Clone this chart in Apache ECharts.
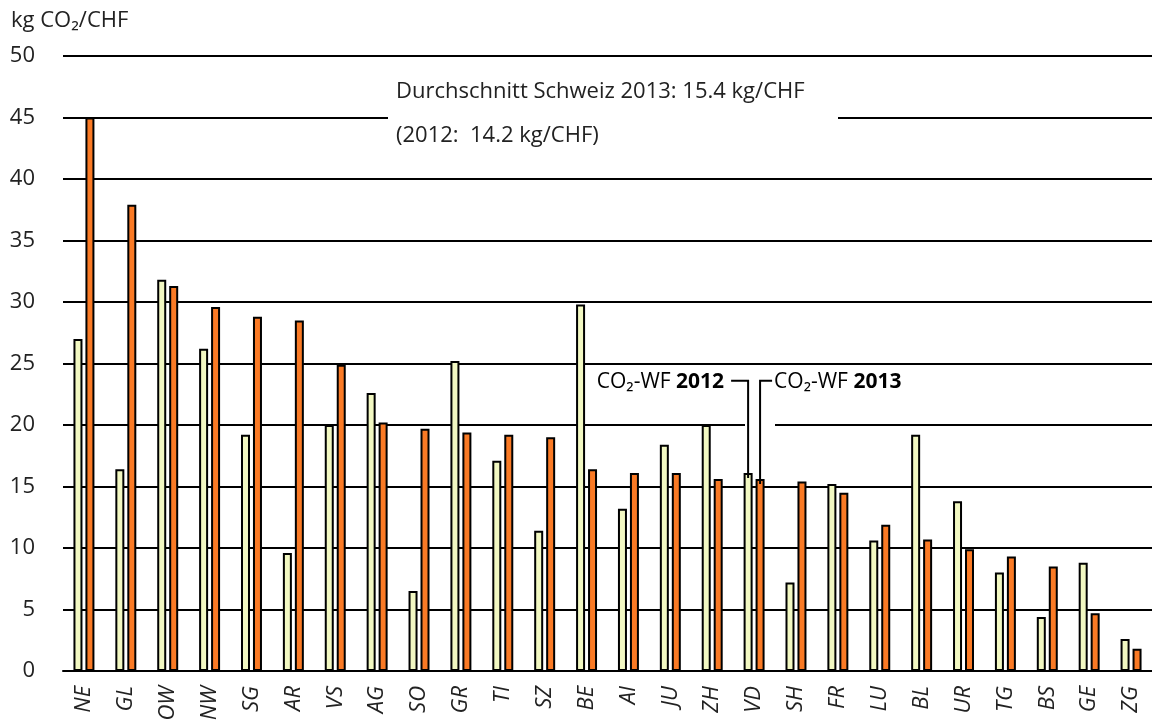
<!DOCTYPE html>
<html><head><meta charset="utf-8">
<script src="https://cdn.jsdelivr.net/npm/echarts@6/dist/echarts.min.js"></script>
<style>html,body{margin:0;padding:0;background:#fff}#c{width:1152px;height:727px}</style>
</head><body><div id="c"></div>
<script>
const categories = ['NE','GL','OW','NW','SG','AR','VS','AG','SO','GR','TI','SZ','BE','AI','JU','ZH','VD','SH','FR','LU','BL','UR','TG','BS','GE','ZG'];
const wf2012 = [27.0,16.4,31.8,26.2,19.2,9.6,20.0,22.6,6.5,25.2,17.1,11.4,29.8,13.2,18.4,20.0,16.1,7.2,15.2,10.6,19.2,13.8,8.0,4.4,8.8,2.6];
const wf2013 = [45.0,37.9,31.3,29.6,28.8,28.5,24.9,20.2,19.7,19.4,19.2,19.0,16.4,16.1,16.1,15.6,15.6,15.4,14.5,11.9,10.7,9.9,9.3,8.5,4.7,1.8];
const yTicks = [0,5,10,15,20,25,30,35,40,45,50];
const FONT = '"Open Sans", "Noto Sans", sans-serif';
const LIGHT = '#f2f8c2', ORANGE = '#fa7a25';

const chart = echarts.init(document.getElementById('c'), null, {renderer:'canvas'});
const BW = 9, GAPF = 0.33;
chart.setOption({
  animation:false,
  backgroundColor:'#fff',
  grid:{left:63, top:56, width:1095, bottom:56, containLabel:false},
  xAxis:{type:'category', data:categories,
    axisLine:{show:true, lineStyle:{color:'#000', width:2}},
    axisTick:{show:false},
    axisLabel:{rotate:90, fontStyle:'italic', fontFamily:FONT, fontSize:22, color:'#222', margin:15, interval:0}
  },
  yAxis:{type:'value', min:yTicks[0], max:yTicks[yTicks.length-1], interval:5,
    axisLine:{show:false}, axisTick:{show:false},
    axisLabel:{fontFamily:FONT, fontSize:22, color:'#222', margin:28},
    splitLine:{lineStyle:{color:'#000', width:2}}
  },
  series:[
    {type:'bar', name:'2012', data:wf2012, barWidth:BW, barGap:(GAPF*100)+'%',
      itemStyle:{color:LIGHT, borderColor:'#000', borderWidth:2}},
    {type:'bar', name:'2013', data:wf2013, barWidth:BW, barGap:(GAPF*100)+'%',
      itemStyle:{color:ORANGE, borderColor:'#000', borderWidth:2}}
  ]
});

function px(cat, v){ return chart.convertToPixel({gridIndex:0}, [cat, v]); }
const vdIdx = categories.indexOf('VD');
const vd = px('VD', 0);
const half = (BW*(1+GAPF))/2;
const x12 = vd[0]-half, x13 = vd[0]+half;
const top12 = px('VD', wf2012[vdIdx])[1], top13 = px('VD', wf2013[vdIdx])[1];
const yLab = px('VD', 23.6)[1];
const y45 = px('NE',45)[1], y20 = px('NE',20)[1];
const ts = {fontFamily:FONT, fontSize:22, fill:'#222'};
chart.setOption({graphic:[
  {type:'text', left:11, top:10, style:{text:'kg CO₂/CHF', ...ts}},
  {type:'rect', shape:{x:388, y:y45-4, width:450, height:8}, style:{fill:'#fff'}, z:5},
  {type:'rect', shape:{x:745, y:y20-4, width:30, height:8}, style:{fill:'#fff'}, z:5},
  {type:'text', x:396, y:92, style:{text:'Durchschnitt Schweiz 2013: 15.4 kg/CHF', ...ts, verticalAlign:'middle'}, z:6},
  {type:'text', x:396, y:136, style:{text:'(2012:  14.2 kg/CHF)', ...ts, verticalAlign:'middle'}, z:6},
  {type:'polyline', shape:{points:[[x12-17,yLab],[x12,yLab],[x12,top12+5]]}, style:{stroke:'#000', lineWidth:2, fill:null}, z:6},
  {type:'polyline', shape:{points:[[x13,top13+5],[x13,yLab],[x13+12,yLab]]}, style:{stroke:'#000', lineWidth:2, fill:null}, z:6},
  {type:'text', x:x12-24, y:yLab+1, style:{text:'{a|CO₂-WF }{b|2012}', align:'right', verticalAlign:'middle',
    rich:{a:{fontFamily:FONT, fontSize:21, color:'#222'}, b:{fontFamily:FONT, fontSize:21, fontWeight:'bold', color:'#111'}}}, z:6},
  {type:'text', x:x13+14, y:yLab+1, style:{text:'{a|CO₂-WF }{b|2013}', align:'left', verticalAlign:'middle',
    rich:{a:{fontFamily:FONT, fontSize:21, color:'#222'}, b:{fontFamily:FONT, fontSize:21, fontWeight:'bold', color:'#111'}}}, z:6}
]});
</script></body></html>
